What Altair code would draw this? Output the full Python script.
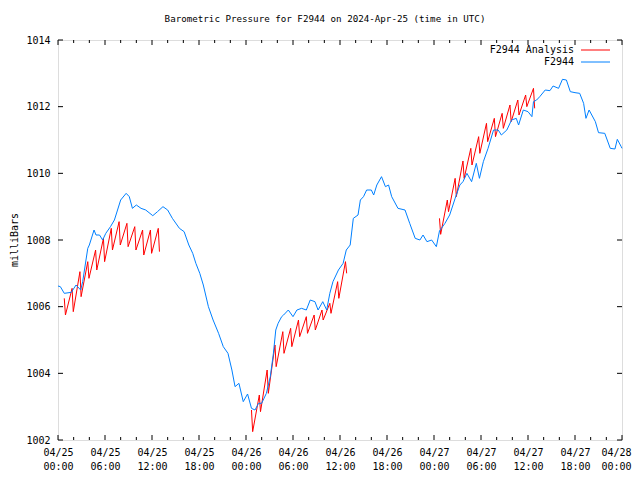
import altair as alt
import pandas as pd

FONT = "DejaVu Sans Mono"

# Observed pressure (hours since 2024-04-25 00:00 UTC, mb)
blue_h = [0.0, 0.3, 0.8, 1.7, 2.3, 2.9, 3.15, 3.8, 4.0, 4.6, 4.85, 5.3, 5.7, 6.1, 6.7, 7.2, 7.6, 8.0,
          8.7, 9.1, 9.5, 10.0, 10.6, 11.2, 12.1, 12.7, 13.4, 14.0, 14.6, 15.5, 16.1, 16.7, 17.2, 17.6,
          18.1, 18.55, 19.2, 19.8, 20.5, 21.1, 21.7, 22.2, 22.6, 23.1, 23.65, 24.2, 24.7, 25.15, 25.6,
          26.0, 26.6, 27.1, 27.5, 27.8, 28.1, 28.55, 28.8, 29.4, 30.0, 30.5, 31.1, 31.7, 32.2, 32.8,
          33.2, 33.8, 34.3, 34.7, 35.1, 35.8, 36.4, 36.8, 37.3, 37.7, 38.3, 38.6, 39.0, 39.4, 40.0,
          40.3, 40.7, 41.3, 41.8, 42.2, 42.6, 43.4, 44.3, 44.9, 45.6, 46.2, 46.6, 47.1, 47.7, 48.3,
          48.7, 49.4, 50.0, 50.7, 51.3, 51.7, 52.2, 52.8, 53.4, 53.8, 54.3, 54.9, 55.6, 56.2, 56.6,
          57.3, 57.9, 58.5, 58.8, 59.4, 60.0, 60.5, 60.7, 61.1, 61.5, 62.2, 62.8, 63.2, 63.9, 64.4,
          64.9, 65.4, 66.0, 66.6, 67.1, 67.4, 67.8, 68.6, 69.0, 69.8, 70.5, 71.1, 71.4, 71.9, 72.0]
blue_p = [1006.62, 1006.6, 1006.4, 1006.43, 1006.65, 1006.5, 1006.75, 1007.75, 1007.85, 1008.3,
          1008.15, 1008.15, 1008.0, 1008.2, 1008.4, 1008.6, 1008.9, 1009.2, 1009.4, 1009.3, 1008.95,
          1009.05, 1008.95, 1008.9, 1008.73, 1008.85, 1009.0, 1008.9, 1008.65, 1008.35, 1008.25,
          1007.85, 1007.6, 1007.3, 1007.0, 1006.65, 1006.0, 1005.6, 1005.2, 1004.8, 1004.6, 1004.1,
          1003.6, 1003.7, 1003.15, 1003.38, 1002.95, 1002.9, 1003.1, 1003.1, 1003.4, 1003.9, 1004.6,
          1005.3, 1005.5, 1005.7, 1005.75, 1005.9, 1005.7, 1005.9, 1005.95, 1005.9, 1006.2, 1006.15,
          1005.9, 1006.15, 1005.9, 1006.4, 1006.75, 1007.1, 1007.3, 1007.7, 1007.85, 1008.65,
          1008.75, 1009.2, 1009.3, 1009.5, 1009.5, 1009.35, 1009.65, 1009.9, 1009.6, 1009.65, 1009.3,
          1008.95, 1008.9, 1008.5, 1008.05, 1008.0, 1008.15, 1007.95, 1008.0, 1007.8, 1008.27,
          1008.5, 1008.75, 1009.25, 1009.65, 1009.75, 1010.0, 1009.75, 1010.3, 1009.85, 1010.35,
          1010.75, 1011.3, 1011.3, 1011.15, 1011.3, 1011.6, 1011.65, 1011.45, 1011.9, 1011.85,
          1011.7, 1012.15, 1012.2, 1012.3, 1012.5, 1012.48, 1012.62, 1012.55, 1012.82, 1012.8,
          1012.45, 1012.42, 1012.4, 1012.1, 1011.65, 1011.9, 1011.55, 1011.22, 1011.2, 1010.75,
          1010.73, 1011.02, 1010.8, 1010.75]

# Analysis sawtooth windows: start hour, hourly peaks and troughs
a1_start = 0.8
a1_peaks = [1006.25, 1006.55, 1007.05, 1007.35, 1007.7, 1008.05, 1008.35, 1008.55, 1008.5,
            1008.4, 1008.3, 1008.3, 1008.35]
a1_troughs = [1005.75, 1005.85, 1006.3, 1006.85, 1007.1, 1007.35, 1007.7, 1007.85, 1007.8,
              1007.7, 1007.55, 1007.6, 1007.65]
a2_start = 24.7
a2_peaks = [1002.9, 1003.35, 1004.1, 1004.85, 1005.25, 1005.35, 1005.6, 1005.7, 1005.75,
            1005.9, 1006.1, 1006.75, 1007.35]
a2_troughs = [1002.25, 1002.85, 1003.4, 1004.2, 1004.6, 1004.8, 1005.1, 1005.2, 1005.3,
              1005.6, 1005.8, 1006.25, 1007.0]
a3_start = 48.7
a3_peaks = [1008.65, 1009.2, 1009.85, 1010.37, 1010.75, 1011.1, 1011.5, 1011.65, 1011.8,
            1012.05, 1012.2, 1012.35, 1012.55]
a3_troughs = [1008.17, 1008.85, 1009.3, 1009.85, 1010.25, 1010.6, 1010.95, 1011.1, 1011.35,
              1011.55, 1011.75, 1012.0, 1011.95]

x_major = list(range(0, 73, 6))
x_minor = [h for h in range(0, 73, 2) if h % 6 != 0]
y_major = [1002, 1004, 1006, 1008, 1010, 1012, 1014]

W, H = 564, 400
RED = "#ff0000"
BLUE = "#0080ff"

def saw(start, peaks, troughs, name):
    rows = []
    for i, (pk, tr) in enumerate(zip(peaks, troughs)):
        rows.append({"h": start + i, "p": pk, "win": name})
        rows.append({"h": start + i + 0.15, "p": tr, "win": name})
    return rows

red_df = pd.DataFrame(saw(a1_start, a1_peaks, a1_troughs, "a") +
                      saw(a2_start, a2_peaks, a2_troughs, "b") +
                      saw(a3_start, a3_peaks, a3_troughs, "c"))
blue_df = pd.DataFrame({"h": blue_h, "p": blue_p})

xs = alt.Scale(domain=[0, 72], nice=False, zero=False)
ys = alt.Scale(domain=[1002, 1014], nice=False, zero=False)

label_expr = ("['04/' + (25 + floor(datum.value / 24)), "
              "(datum.value % 24 < 10 ? '0' : '') + (datum.value % 24) + ':00']")

x_axis = alt.Axis(values=x_major, labelExpr=label_expr, domain=False, ticks=False, grid=False,
                  labelFont=FONT, labelFontSize=10, labelColor="black", labelPadding=7,
                  labelBaseline="top", labelLineHeight=14, title=None, labelFlush=False,
                  labelOverlap=False,
                  labelOffset={"condition": {"test": "datum.value == 72", "value": -6}, "value": 0})
y_axis = alt.Axis(values=y_major, domain=False, ticks=False, grid=False, labelFont=FONT,
                  labelFontSize=10, labelColor="black", labelPadding=8, title=None,
                  labelFlush=False, format="d")

red = alt.Chart(red_df).mark_line(color=RED, strokeWidth=1).encode(
    x=alt.X("h:Q", scale=xs, axis=x_axis),
    y=alt.Y("p:Q", scale=ys, axis=y_axis),
    detail="win:N",
    order="h:Q",
)
blue = alt.Chart(blue_df).mark_line(color=BLUE, strokeWidth=1).encode(
    x=alt.X("h:Q", scale=xs),
    y=alt.Y("p:Q", scale=ys),
    order="h:Q",
)

xmaj_df = pd.DataFrame({"h": x_major})
xmin_df = pd.DataFrame({"h": x_minor})
ymaj_df = pd.DataFrame({"p": y_major})

tick_layers = [
    alt.Chart(xmaj_df).mark_rule(color="black").encode(x=alt.X("h:Q", scale=xs), y=alt.value(H), y2=alt.value(H - 5)),
    alt.Chart(xmaj_df).mark_rule(color="black").encode(x=alt.X("h:Q", scale=xs), y=alt.value(0), y2=alt.value(5)),
    alt.Chart(xmin_df).mark_rule(color="black").encode(x=alt.X("h:Q", scale=xs), y=alt.value(H), y2=alt.value(H - 3)),
    alt.Chart(xmin_df).mark_rule(color="black").encode(x=alt.X("h:Q", scale=xs), y=alt.value(0), y2=alt.value(3)),
    alt.Chart(ymaj_df).mark_rule(color="black").encode(y=alt.Y("p:Q", scale=ys), x=alt.value(0), x2=alt.value(5)),
    alt.Chart(ymaj_df).mark_rule(color="black").encode(y=alt.Y("p:Q", scale=ys), x=alt.value(W), x2=alt.value(W - 5)),
]

one = pd.DataFrame({"a": [0]})
title = alt.Chart(pd.DataFrame({"t": ["Barometric Pressure for F2944 on 2024-Apr-25 (time in UTC)"]})).mark_text(
    font=FONT, fontSize=9.2, align="center", baseline="middle", color="black").encode(
    text="t:N", x=alt.value(267), y=alt.value(-21))
ytitle = alt.Chart(pd.DataFrame({"t": ["milliBars"]})).mark_text(
    font=FONT, fontSize=10, align="center", baseline="middle", angle=270, color="black").encode(
    text="t:N", x=alt.value(-43), y=alt.value(200))

leg_names = ["F2944 Analysis", "F2944"]
leg1 = alt.Chart(pd.DataFrame({"t": [leg_names[0]]})).mark_text(
    font=FONT, fontSize=10, align="right", baseline="middle", color="black").encode(
    text="t:N", x=alt.value(516), y=alt.value(10))
leg2 = alt.Chart(pd.DataFrame({"t": [leg_names[1]]})).mark_text(
    font=FONT, fontSize=10, align="right", baseline="middle", color="black").encode(
    text="t:N", x=alt.value(516), y=alt.value(22))
legl1 = alt.Chart(one).mark_rule(color=RED, strokeWidth=1).encode(
    x=alt.value(523), x2=alt.value(552), y=alt.value(10))
legl2 = alt.Chart(one).mark_rule(color=BLUE, strokeWidth=1).encode(
    x=alt.value(523), x2=alt.value(552), y=alt.value(22))

chart = alt.layer(red, blue, *tick_layers, title, ytitle, leg1, leg2, legl1, legl2).properties(
    width=W, height=H,
    autosize=alt.AutoSizeParams(type="none"),
    padding={"left": 50, "top": 32, "right": 10, "bottom": 30},
).configure_view(stroke="black", strokeWidth=1).configure(background="white")

chart.save("out.html", embed_options={"renderer": "svg", "actions": False})
